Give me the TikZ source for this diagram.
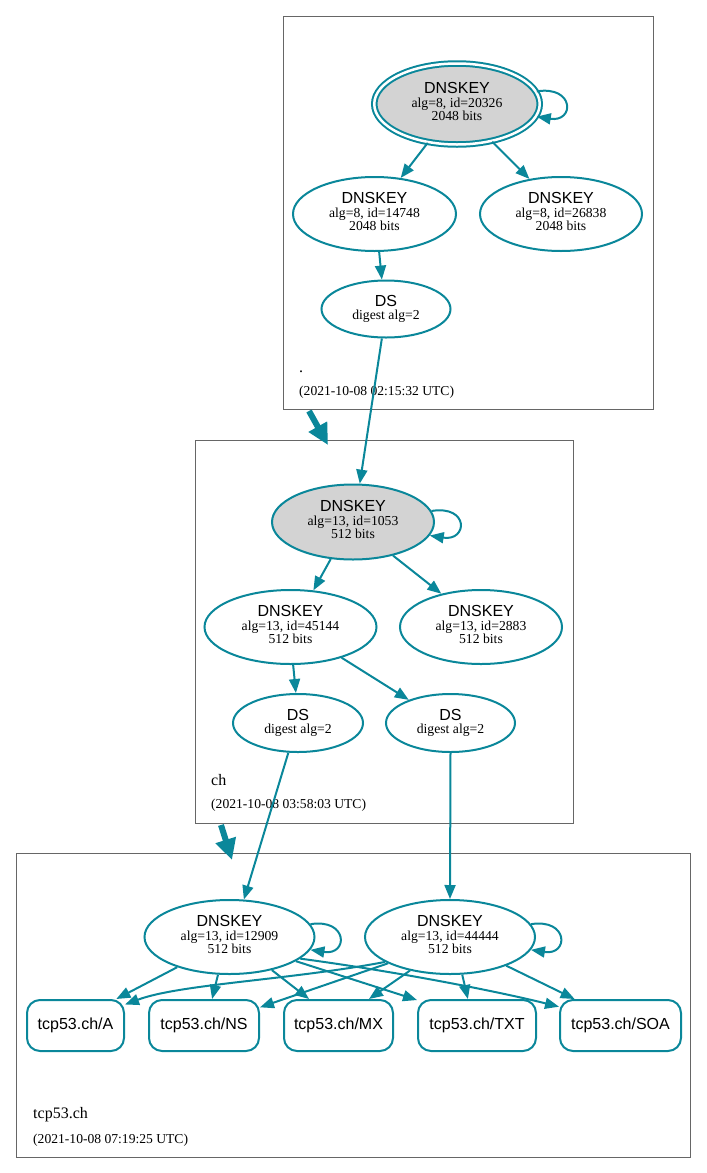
\documentclass[tikz,border=0pt]{standalone}
\usepackage{fontspec}
\setmainfont{Liberation Serif}
\newfontfamily\hv{Liberation Sans}
\usetikzlibrary{arrows.meta,shapes.geometric}
\definecolor{edgec}{HTML}{0A879A}
\definecolor{keyfill}{HTML}{D3D3D3}
\definecolor{clus}{HTML}{666666}
\newcommand\keytxt[2]{{\hv\fontsize{16}{16}\selectfont DNSKEY}\\#1\\#2\rule[-5pt]{0pt}{5pt}}
\newcommand\dstxt{{\hv\fontsize{16}{16}\selectfont DS}\\digest alg=2}
\begin{document}
\begin{tikzpicture}[x=1pt,y=-1pt,
  key/.style={ellipse,draw=edgec,line width=2pt,inner sep=0pt,align=center,
    font=\fontsize{13.7}{13.5}\selectfont},
  ksk/.style={key,fill=keyfill},
  rec/.style={rectangle,draw=edgec,line width=2pt,rounded corners=13pt,inner sep=0pt,
    minimum height=51pt,font=\hv\fontsize{16}{16}\selectfont},
  edge/.style={draw=edgec,line width=2pt,-{Triangle[length=14pt,width=11pt]}},
  deleg/.style={draw=edgec,line width=6pt,-{Triangle[length=21pt,width=20pt]}},
  clusterbox/.style={draw=clus,line width=1pt},
  zname/.style={anchor=base west,inner sep=0pt,font=\fontsize{16}{16}\selectfont},
  zdate/.style={anchor=base west,inner sep=0pt,font=\fontsize{13.6}{13.5}\selectfont}]
\useasboundingbox (0,0) rectangle (707,1173);

% cluster boxes
\draw[clusterbox] (283,16) rectangle (653,409);
\draw[clusterbox] (195,440) rectangle (573,823);
\draw[clusterbox] (16,853) rectangle (690,1157);

% root zone
\node[ksk,double,double distance=2.5pt,minimum width=165.5pt,minimum height=81pt] (rk) at (457,104) {\keytxt{alg=8, id=20326}{2048 bits}};
\node[key,minimum width=163pt,minimum height=74pt] (k1) at (374.5,214) {\keytxt{alg=8, id=14748}{2048 bits}};
\node[key,minimum width=162pt,minimum height=74pt] (k2) at (561,214) {\keytxt{alg=8, id=26838}{2048 bits}};
\node[key,minimum width=129pt,minimum height=57pt] (ds0) at (386,309) {\dstxt};
\node[zname] (rootname) at (299,372) {.};
\node[zdate] (rootdate) at (299,395) {(2021-10-08 02:15:32 UTC)};

% ch zone
\node[ksk,minimum width=162pt,minimum height=75pt] (ck) at (353,522) {\keytxt{alg=13, id=1053}{512 bits}};
\node[key,minimum width=172pt,minimum height=74pt] (c1) at (290.5,627) {\keytxt{alg=13, id=45144}{512 bits}};
\node[key,minimum width=162pt,minimum height=74pt] (c2) at (481,627) {\keytxt{alg=13, id=2883}{512 bits}};
\node[key,minimum width=130pt,minimum height=58pt] (dsa) at (298,723) {\dstxt};
\node[key,minimum width=129pt,minimum height=58pt] (dsb) at (450.5,723) {\dstxt};
\node[zname] (chname) at (211,785) {ch};
\node[zdate] (chdate) at (211,808) {(2021-10-08 03:58:03 UTC)};

% tcp53.ch zone
\node[key,minimum width=170pt,minimum height=74pt] (t1) at (229.5,937) {\keytxt{alg=13, id=12909}{512 bits}};
\node[key,minimum width=170pt,minimum height=74pt] (t2) at (450,937) {\keytxt{alg=13, id=44444}{512 bits}};
\node[rec,minimum width=97pt] (rA) at (75.5,1025.5) {tcp53.ch/A};
\node[rec,minimum width=110pt] (rNS) at (204,1025.5) {tcp53.ch/NS};
\node[rec,minimum width=109pt] (rMX) at (338.5,1025.5) {tcp53.ch/MX};
\node[rec,minimum width=118pt] (rTXT) at (477,1025.5) {tcp53.ch/TXT};
\node[rec,minimum width=121pt] (rSOA) at (620.5,1025.5) {tcp53.ch/SOA};
\node[zname] (tcpname) at (33,1118) {tcp53.ch};
\node[zdate] (tcpdate) at (33,1143) {(2021-10-08 07:19:25 UTC)};

% delegation arrows
\coordinate (d1s) at (309,411);
\coordinate (d1e) at (328,445);
\coordinate (d2s) at (221,825);
\coordinate (d2e) at (232,860);
\draw[deleg] (d1s) -- (d1e);
\draw[deleg] (d2s) -- (d2e);

% root edges
\draw[edge] (rk.9) .. controls +(38,-6) and +(38,6) .. (rk.-9);
\draw[edge] (rk.233) -- (k1.54);
\draw[edge] (rk.-47) -- (k2.132);
\draw[edge] (k1.-83) -- (ds0.98);
\draw[edge] (ds0.-98) -- (ck.80);

% ch edges
\draw[edge] (ck.8) .. controls +(38,-6) and +(38,6) .. (ck.-10);
\draw[edge] (ck.-121) -- (c1.58);
\draw[edge] (ck.-40) -- (c2.140);
\draw[edge] (c1.-86) -- (dsa.94);
\draw[edge] (c1.-31) -- (dsb.151);
\draw[edge] (dsa.-108) -- (t1.69);
\draw[edge] (dsb.-90) -- (t2.90);

% tcp53.ch edges
\draw[edge] (t1.9) .. controls +(38,-6) and +(38,6) .. (t1.-9);
\draw[edge] (t2.9) .. controls +(38,-6) and +(38,6) .. (t2.-9);
\draw[edge] (t1.210) -- (rA.33);
\draw[edge] (t1.-107) -- (rNS.73);
\draw[edge] (t1.-38) -- (rMX.138);
\draw[edge] (t1.-20) -- (rTXT.157);
\draw[edge] (t1.-17) .. controls (400,972) and (500,992) .. (rSOA.163);
\draw[edge] (t2.201) .. controls (290,980) and (180,984) .. (rA.23);
\draw[edge] (t2.203) -- (rNS.18);
\draw[edge] (t2.220) -- (rMX.41);
\draw[edge] (t2.-72) -- (rTXT.109);
\draw[edge] (t2.-27) -- (rSOA.150);
\end{tikzpicture}
\end{document}
